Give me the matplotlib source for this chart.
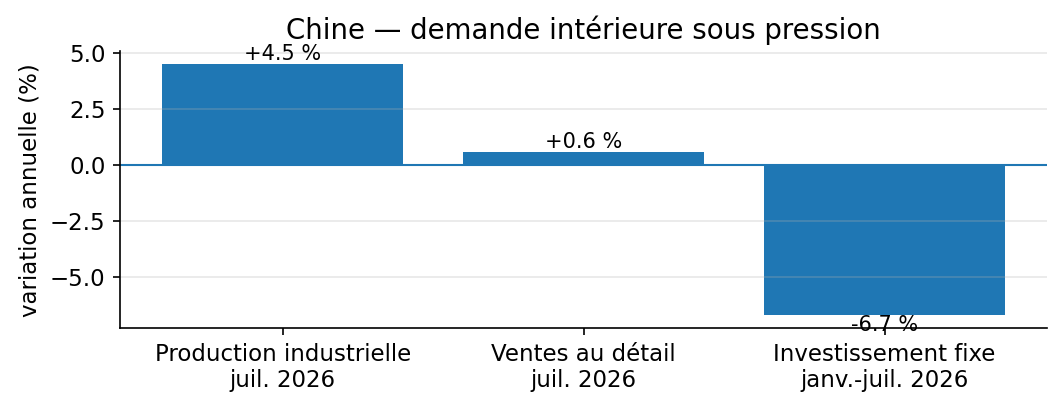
import matplotlib.pyplot as plt

# indicateurs chinois, variation annuelle en %
categories = ["Production industrielle\njuil. 2026",
              "Ventes au détail\njuil. 2026",
              "Investissement fixe\njanv.-juil. 2026"]
values = [4.5, 0.6, -6.7]
labels = ["+4.5 %", "+0.6 %", "-6.7 %"]

fig, ax = plt.subplots(figsize=(7.087, 2.727), dpi=150)
bars = ax.bar(categories, values, color="#1f77b4")
ax.axhline(0, color="#1f77b4", linewidth=1)
ax.bar_label(bars, labels=labels, fontsize=10)

ax.set_title("Chine — demande intérieure sous pression", fontsize=13.25)
ax.set_ylabel("variation annuelle (%)", fontsize=11)
ax.tick_params(labelsize=11)
ax.grid(axis="y", alpha=0.3)
ax.spines["top"].set_visible(False)
ax.spines["right"].set_visible(False)

fig.subplots_adjust(left=0.113, right=0.985, bottom=0.198, top=0.874)
fig.savefig("out.png")
